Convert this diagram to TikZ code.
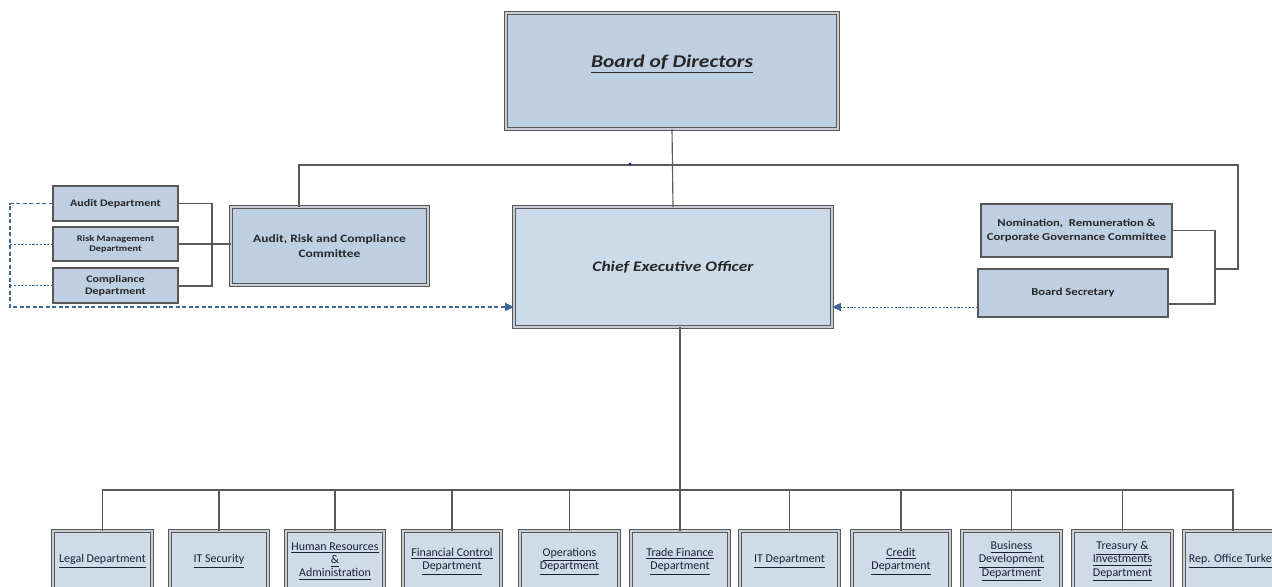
\documentclass[tikz,border=0pt]{standalone}
\usepackage{fontspec}
\setmainfont{Carlito}[FakeStretch=1.2]
\newfontfamily\deptfont{Carlito}
\usetikzlibrary{arrows.meta}

\definecolor{topfill}{RGB}{190,207,226}
\definecolor{ceofill}{RGB}{204,219,234}
\definecolor{deptfill}{RGB}{206,219,233}
\definecolor{frame}{RGB}{88,88,88}
\definecolor{framegap}{RGB}{200,205,212}
\definecolor{wire}{RGB}{90,90,90}
\definecolor{link}{RGB}{62,102,150}
\definecolor{navy}{RGB}{28,30,58}

% box given by its corners (x1,y1) and (x2,y2) in the picture's units
\newcommand\orgbox[7]{%
  \node[#6, minimum width={(#4-#2)*0.02cm}, minimum height={(#5-#3)*0.02cm}]
    (#1) at ({(#2+#4)/2},{(#3+#5)/2}) {#7};}
\newcommand\ul[1]{\underline{#1}}

\begin{document}
\begin{tikzpicture}[x=0.02cm, y=-0.02cm,
  base/.style={rectangle, inner sep=0pt, outer sep=0pt, align=center},
  dblframe/.style={base, draw=frame, double=framegap, double distance=0.8pt, line width=0.55pt},
  bigbox/.style={dblframe, fill=topfill},
  ceobox/.style={dblframe, fill=ceofill},
  smallbox/.style={base, draw=frame, line width=0.7pt, fill=topfill,
    font=\bfseries\fontsize{5.7}{7}\selectfont, text=black!85},
  deptbox/.style={dblframe, fill=deptfill,
    font=\deptfont\fontsize{6.8}{7.6}\selectfont, text=navy},
  wireline/.style={draw=wire, line width=0.65pt},
  solidlink/.style={draw=link, line width=1pt, dash pattern=on 2.4pt off 1.3pt,
    -{Triangle[length=5pt,width=4.5pt]}},
  dottedlink/.style={draw=link, line width=0.45pt, dash pattern=on 1.2pt off 0.9pt},
]
\clip (0,0) rectangle (1272,586);

% board and chief executive
\orgbox{bod}{506}{13}{838}{129}{bigbox}{}
\node[font=\bfseries\itshape\fontsize{10.2}{12}\selectfont, text=black!85, inner sep=0pt]
  (bodtext) at (672,64) {\ul{Board of Directors}};
\orgbox{ceo}{514}{207}{832}{327}{ceobox,
  font=\bfseries\itshape\fontsize{8.3}{10}\selectfont, text=black!85}{Chief Executive Officer}

% committees and units
\orgbox{arc}{231}{207}{428}{285}{bigbox,
  font=\bfseries\fontsize{6.4}{8.4}\selectfont, text=black!85}{Audit, Risk and Compliance\\Committee}
\orgbox{ad}{53}{186}{178}{221}{smallbox}{Audit Department}
\orgbox{rm}{53}{227}{178}{261}{smallbox, font=\bfseries\fontsize{4.9}{6}\selectfont}{Risk Management\\Department}
\orgbox{cd}{53}{268}{178}{303}{smallbox}{Compliance\\Department}
\orgbox{nom}{981}{204}{1172}{257}{smallbox, font=\bfseries\fontsize{6}{8}\selectfont}{Nomination,\ \ Remuneration \&\\Corporate Governance Committee}
\orgbox{bs}{978}{269}{1168}{317}{smallbox, font=\bfseries\fontsize{6}{8}\selectfont}{Board Secretary}

% departments
\orgbox{legal}{53}{531}{152}{592}{deptbox}{\ul{Legal Department}}
\orgbox{itsec}{170}{531}{268}{592}{deptbox}{\ul{IT Security}}
\orgbox{hr}{286}{531}{384}{592}{deptbox}{\ul{Human Resources}\\\ul{\&}\\\ul{Administration}}
\orgbox{fc}{403}{531}{501}{592}{deptbox}{\ul{Financial Control}\\\ul{Department}}
\orgbox{ops}{520}{531}{619}{592}{deptbox}{\ul{Operations}\\\ul{Department}}
\orgbox{tf}{631}{531}{729}{592}{deptbox}{\ul{Trade Finance}\\\ul{Department}}
\orgbox{itd}{740}{531}{839}{592}{deptbox}{\ul{IT Department}}
\orgbox{cr}{852}{531}{950}{592}{deptbox}{\ul{Credit}\\\ul{Department}}
\orgbox{bd}{962}{531}{1061}{592}{deptbox}{\ul{Business}\\\ul{Development}\\\ul{Department}}
\orgbox{tr}{1073}{531}{1172}{592}{deptbox}{\ul{Treasury \&}\\\ul{Investments}\\\ul{Department}}
\orgbox{rep}{1184}{531}{1282}{592}{deptbox}{\ul{Rep. Office Turkey}}

% reporting lines from the board
\coordinate (topleft) at (299,165);
\coordinate (topright) at (1238,165);
\coordinate (rightdrop) at (1215,269);
\draw[wireline] (bod.south) -- (ceo.north);
\draw[wireline] (topleft |- arc.north) -- (topleft) -- (topright) |- (rightdrop);
\fill[blue!60!black] (630,164) circle (1.3);

% committee brackets
\coordinate (lbr) at (212,286);
\coordinate (rbr) at (1215,304);
\draw[wireline] (ad.east) -| (lbr) -- (lbr -| cd.east);
\draw[wireline] (rm.east) -- (rm.east -| arc.west);
\draw[wireline] (nom.east) -| (rbr) -- (rbr -| bs.east);

% functional lines to the chief executive
\coordinate (lc) at (10,307);
\draw[solidlink] (ad.west) -| (lc) -- (lc -| ceo.west);
\draw[dottedlink] (rm.west) -- (rm.west -| lc);
\draw[dottedlink] (cd.west) -- (cd.west -| lc);
\draw[dottedlink, -{Triangle[length=5pt,width=4.5pt]}] (bs.west |- lc) -- (ceo.east |- lc);

% departments under the chief executive
\coordinate (bus) at (680,490);
\draw[wireline] (tf.north) -- (tf.north |- ceo.south);
\foreach \d in {legal,itsec,hr,fc,ops,itd,cr,bd,tr,rep}
  \draw[wireline] (bus) -| (\d.north);
\end{tikzpicture}
\end{document}
